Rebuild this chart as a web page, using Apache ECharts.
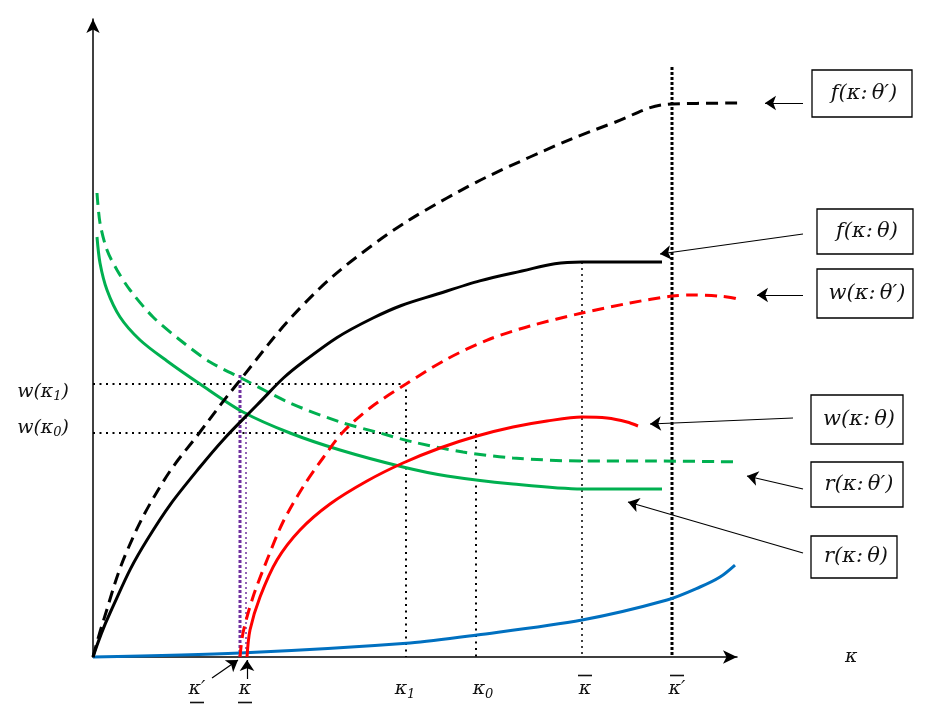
<!DOCTYPE html>
<html><head><meta charset="utf-8">
<script src="https://cdn.jsdelivr.net/npm/echarts@6/dist/echarts.min.js"></script>
<style>html,body{margin:0;padding:0;background:#fff}#c{width:928px;height:713px}</style>
</head><body><div id="c"></div>
<script>
// ---- key κ positions and w levels (chart units) ----
const kappaPrime = 147, kappaLow = 153, kappa1 = 313, kappa0 = 383, kappaBar = 489, kappaBarPrime = 579;
const wK1 = 273, wK0 = 224;

// ---- curves ----
const fThetaPrime = [[0,0],[10,35],[34,106],[70,175],[107,225],[144,273],[210,352],[277,410],[354,459],[437,500],[520,534],[579,553],[652,554]];
const fTheta = [[0,0],[17,44],[54,117],[107,190],[164,252],[210,295],[280,339],[354,366],[420,384],[489,395],[569,395]];
const wThetaPrime = [[147,0],[150,24],[160,60],[174,97],[190,135],[210,170],[230,199],[250,225],[277,249],[313,273],[354,298],[397,318],[437,331],[489,344],[537,354],[579,361],[600,362],[625,361],[647,357],[672,340]];
const wTheta = [[154,0],[157,27],[167,60],[184,97],[207,127],[237,153],[274,176],[310,194],[347,209],[384,221],[420,230],[454,236],[489,240],[514,239],[534,235],[545,231]];
const rTheta = [[4,420],[7,394],[14,367],[27,340],[47,317],[74,296],[107,273],[150,245],[197,224],[247,207],[310,190],[354,181],[420,173],[489,168],[569,168]];
const rThetaPrime = [[4,464],[7,434],[14,407],[24,387],[37,367],[60,340],[87,317],[117,295],[152,277],[197,254],[247,235],[287,224],[320,215],[370,205],[420,199],[489,196],[557,196],[650,195]];
const blueCurve = [[0,0],[147,4],[317,14],[384,22],[489,37],[574,57],[607,70],[627,80],[642,92]];

// ---- tick labels ----
const xLabelAt   = [104, 152, 312, 390, 492, 584];
const xLabelBase = ['κ′', 'κ', 'κ', 'κ', 'κ', 'κ′'];
const xLabelSub  = ['', '', '1', '0', '', ''];
const xLabelMark = ['under', 'under', '', '', 'over', 'over'];
const yLabelAt   = [265, 229];
const yLabelSub  = ['1', '0'];

// ---- curve legends (boxes) ----
const boxTexts = ['f(κ:\u2009θ′)', 'f(κ:\u2009θ)', 'w(κ:\u2009θ′)', 'w(κ:\u2009θ)', 'r(κ:\u2009θ′)', 'r(κ:\u2009θ)'];

const TXT = '#111';
const FONT = "'DejaVu Serif', 'Liberation Serif', serif";
const GREEN = '#00B050', RED = '#FF0000', BLUE = '#0070C0', PURPLE = '#7030A0';

const rich = {
  k: {fontFamily: FONT, fontStyle: 'italic', fontSize: 19, color: TXT, lineHeight: 22},
  sub: {fontFamily: FONT, fontStyle: 'italic', fontSize: 13, color: TXT, padding: [10,0,0,0]},
  bar: {width: 14, height: 1.6, backgroundColor: TXT, lineHeight: 5},
  sp: {width: 14, height: 1.6, lineHeight: 5}
};

function xFmt(v) {
  const i = xLabelAt.indexOf(v);
  if (i < 0) return '';
  const main = '{k|' + xLabelBase[i] + '}' + (xLabelSub[i] ? '{sub|' + xLabelSub[i] + '}' : '');
  const top = xLabelMark[i] === 'over' ? '{bar|}' : '{sp|}';
  const bot = xLabelMark[i] === 'under' ? '{bar|}' : '{sp|}';
  return top + '\n' + main + '\n' + bot;
}
function yFmt(v) {
  const i = yLabelAt.indexOf(v);
  if (i < 0) return '';
  return '{k|w(κ}{sub|' + yLabelSub[i] + '}{k|)}';
}

function curve(data, color, dashed, smooth) {
  return {type: 'line', data, smooth: smooth || 0.3, symbol: 'none', clip: false, silent: true, z: 4,
    lineStyle: {color, width: 3, type: dashed ? [12, 7] : 'solid'}};
}
function guide(data, color, width, pattern) {
  return {type: 'line', data, symbol: 'none', clip: false, silent: true, z: 2,
    lineStyle: {color, width, type: pattern}};
}

// annotation arrows (page pixels): from box to curve
const arrows = [
  [[803,103],[765,103]],
  [[803,234],[660,254]],
  [[803,295],[757,295]],
  [[793,418],[650,424]],
  [[803,489],[747,476]],
  [[803,553],[628,502]],
  [[212,678],[238,660]],
  [[247,679],[247,660]]
];
const boxes = [
  [812,70,100,47],[817,209,96,45],[817,269,96,49],[811,395,92,49],[811,462,92,45],[811,536,86,42]
];

const chart = echarts.init(document.getElementById('c'), null, {renderer: 'canvas'});
const option = {
  animation: false,
  backgroundColor: '#fff',
  grid: [
    {left: 93, top: 19, right: 191, bottom: 56, containLabel: false},
    {left: 0, top: 0, right: 0, bottom: 0}
  ],
  xAxis: [
    {type: 'value', min: 0, max: 644, gridIndex: 0,
      name: 'κ', nameLocation: 'end', nameGap: 108,
      nameTextStyle: {fontFamily: FONT, fontStyle: 'italic', fontSize: 19, color: TXT, padding: [8,0,0,0]},
      axisLine: {show: true, onZero: false, symbol: ['none', 'arrow'], symbolSize: [10, 14], lineStyle: {color: '#000', width: 1.5}},
      axisTick: {show: false}, splitLine: {show: false},
      axisLabel: {show: true, customValues: xLabelAt, formatter: xFmt, rich, margin: 16, align: 'center'}
    },
    {type: 'value', min: 0, max: 928, gridIndex: 1, show: false}
  ],
  yAxis: [
    {type: 'value', min: 0, max: 638, gridIndex: 0,
      axisLine: {show: true, onZero: false, symbol: ['none', 'arrow'], symbolSize: [10, 14], lineStyle: {color: '#000', width: 1.5}},
      axisTick: {show: false}, splitLine: {show: false},
      axisLabel: {show: true, customValues: yLabelAt, formatter: yFmt, rich, margin: 24}
    },
    {type: 'value', min: 0, max: 713, gridIndex: 1, inverse: true, show: false}
  ],
  series: [
    guide([[0,wK1],[kappa1,wK1],[kappa1,0]], '#000', 2, [2,4.5]),
    guide([[0,wK0],[kappa0,wK0],[kappa0,0]], '#000', 2, [2,4.5]),
    guide([[kappaBar,395],[kappaBar,0]], '#000', 1.5, [2,4]),
    guide([[kappaBarPrime,590],[kappaBarPrime,0]], '#000', 3, [3,2]),
    guide([[kappaPrime,282],[kappaPrime,0]], PURPLE, 3, [3,2]),
    guide([[kappaLow,245],[kappaLow,0]], PURPLE, 1.5, [2,3]),
    curve(blueCurve, BLUE, false),
    curve(rTheta, GREEN, false),
    curve(rThetaPrime, GREEN, true),
    curve(wTheta, RED, false),
    curve(wThetaPrime, RED, true),
    curve(fTheta, '#000', false, 0.45),
    curve(fThetaPrime, '#000', true, 0.4),
    {type: 'lines', coordinateSystem: 'cartesian2d', xAxisIndex: 1, yAxisIndex: 1, silent: true, z: 5,
      symbol: ['none', 'arrow'], symbolSize: 11,
      lineStyle: {color: '#000', width: 1.2, opacity: 1, curveness: 0},
      data: arrows.map(a => ({coords: a}))}
  ],
  graphic: boxes.map((b, i) => ({
    type: 'group', children: [
      {type: 'rect', shape: {x: b[0], y: b[1], width: b[2], height: b[3]},
        style: {fill: '#fff', stroke: '#000', lineWidth: 1.3}, z: 10},
      {type: 'text', z: 11, style: {text: boxTexts[i], x: b[0] + b[2] / 2 + 2, y: b[1] + b[3] / 2,
        textAlign: 'center', textVerticalAlign: 'middle', fill: TXT,
        font: "italic 21px 'DejaVu Serif', 'Liberation Serif', serif"}}
    ]
  }))
};
chart.setOption(option);
</script></body></html>
